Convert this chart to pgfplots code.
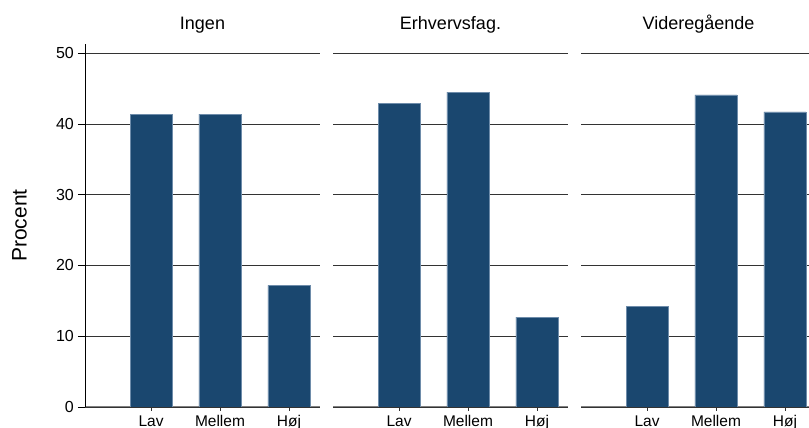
\documentclass[border=0pt]{standalone}
\usepackage{pgfplots}
\pgfplotsset{compat=1.18}
\usepackage{fontspec}
\setmainfont{Liberation Sans}
\definecolor{barblue}{RGB}{26,71,111}
\definecolor{baredge}{RGB}{110,140,170}
\pgfplotsset{
  panel/.style={
    scale only axis, width=235pt, height=363pt,
    anchor=south west,
    xmin=-0.957, xmax=2.45, ymin=0, ymax=51.3,
    xtick={0,1,2}, xticklabels={Lav,Mellem,Høj},
    ytick={0,10,20,30,40,50},
    axis x line*=bottom, axis y line*=left,
    tick align=outside, major tick length=7pt,
    ymajorgrids, grid style={black!80, line width=0.8pt},
    x axis line style={black!50, line width=1pt, -},
    y axis line style={black, line width=0.8pt, -},
    xtick style={black!80, line width=0.8pt, /pgfplots/major tick length=4pt},
    ytick style={black, line width=0.8pt},
    /pgf/number format/assume math mode=true,
    ticklabel style={font=\fontsize{16}{18}\selectfont},
    xticklabel style={font=\fontsize{15.5}{17}\selectfont, anchor=north, inner sep=0pt, text height=11pt, text depth=3.4pt, yshift=-1.2pt},
    yticklabel style={anchor=east, inner sep=0pt, xshift=-4pt},
    title style={at={(0.5,1)}, anchor=base, inner sep=0pt, yshift=8pt, font=\fontsize{18}{20}\selectfont},
    ybar, bar width=42pt,
  },
  nolefty/.style={
    yticklabels={}, y axis line style={draw=none}, ytick style={draw=none},
  }
}
\begin{document}
\begin{tikzpicture}
\begin{axis}[panel, at={(85pt,21pt)}, title={Ingen},
  ylabel={Procent},
  ylabel style={at={(axis description cs:-0.248,0.5)}, anchor=base, rotate=0, inner sep=0pt, font=\fontsize{21}{23}\selectfont}]
\addplot[fill=barblue, draw=baredge, line width=0.6pt] coordinates {(0,41.4) (1,41.4) (2,17.2)};
\end{axis}
\begin{axis}[panel, nolefty, at={(333pt,21pt)}, title={Erhvervsfag.}]
\addplot[fill=barblue, draw=baredge, line width=0.6pt] coordinates {(0,42.9) (1,44.5) (2,12.7)};
\end{axis}
\begin{axis}[panel, nolefty, at={(581pt,21pt)}, title={Videregående}]
\addplot[fill=barblue, draw=baredge, line width=0.6pt] coordinates {(0,14.2) (1,44.1) (2,41.7)};
\end{axis}
\pgfresetboundingbox
\path[use as bounding box] (0pt,0pt) rectangle (809pt,428pt);
\end{tikzpicture}
\end{document}
